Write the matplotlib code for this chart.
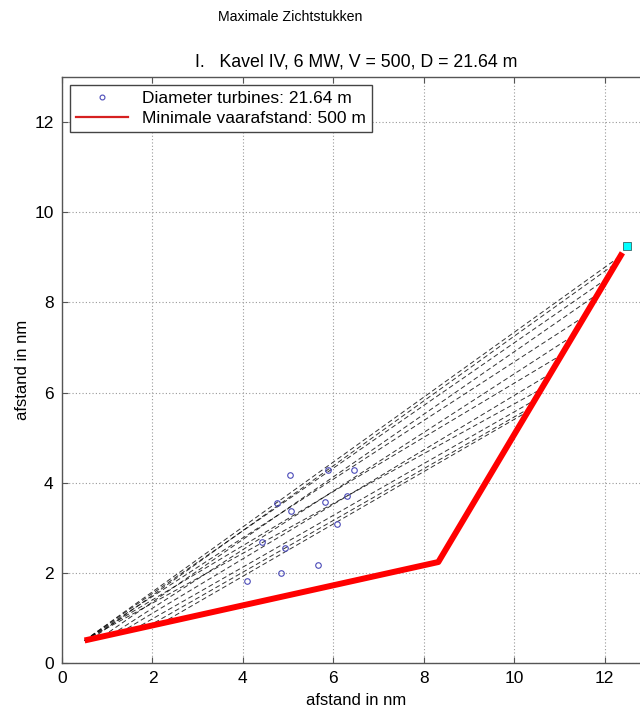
import matplotlib
matplotlib.use("Agg")
import matplotlib.pyplot as plt
from matplotlib.lines import Line2D

plt.rcParams['font.family'] = ['Liberation Sans', 'DejaVu Sans']

# turbine positions (nm)
turbine_x = [5.04, 5.89, 6.46, 4.76, 5.07, 5.82, 6.30, 6.08, 4.42, 4.92, 5.67, 4.85, 4.09]
turbine_y = [4.17, 4.28, 4.28, 3.55, 3.37, 3.57, 3.71, 3.08, 2.68, 2.56, 2.18, 1.99, 1.83]

# minimal sailing distance route
route_x = [0.5, 8.32, 12.39]
route_y = [0.5, 2.24, 9.10]

# sight lines: start and end points along the route
sight_start_x = [0.50, 0.65, 0.50, 0.90, 0.50, 1.10, 0.50, 1.30, 0.50, 1.60, 1.90, 2.20]
sight_start_y = [0.50, 0.53, 0.50, 0.59, 0.50, 0.63, 0.50, 0.68, 0.50, 0.75, 0.81, 0.88]
sight_end_x = [12.35, 12.25, 12.05, 11.85, 11.55, 11.30, 11.05, 10.80, 10.60, 10.45, 10.35, 10.30]
sight_end_y = [9.03, 8.87, 8.53, 8.19, 7.69, 7.26, 6.84, 6.42, 6.08, 5.83, 5.66, 5.58]

# observer marker
obs_x = [12.5]
obs_y = [9.25]

fig = plt.figure(figsize=(6.40, 7.13), dpi=100)
ax = fig.add_axes([62/640, 1-663/713, 588/640, 586/713])

for sx, sy, ex, ey in zip(sight_start_x, sight_start_y, sight_end_x, sight_end_y):
    ax.plot([sx, ex], [sy, ey], color='black',
            lw=0.7, ls=(0, (5, 3)), alpha=0.8, zorder=2)

ax.plot(turbine_x, turbine_y, ls='none', marker='o', ms=4.0, mfc='none',
        mec='#4a4ab8', mew=0.8, zorder=3)
ax.plot(route_x, route_y, color='red', lw=4.3, solid_capstyle='butt', zorder=4)
ax.plot(obs_x, obs_y, ls='none', marker='s', ms=6, mfc='cyan', mec='#336666',
        mew=0.6, zorder=5)

ax.set_xlim(0, 13)
ax.set_ylim(0, 13)
ax.set_xticks(range(0, 13, 2))
ax.set_yticks(range(0, 13, 2))
ax.grid(True, ls=(0, (1, 2)), color='#999999', lw=0.8)
ax.tick_params(direction='in', top=True, right=True, labelsize=12.5, length=4,
               color='#555555', pad=6)
for s in ax.spines.values():
    s.set_color('#555555')
    s.set_linewidth(1.0)

ax.set_xlabel('afstand in nm', fontsize=12, labelpad=5)
ax.set_ylabel('afstand in nm', fontsize=12, labelpad=3)
ax.set_title('I.   Kavel IV, 6 MW, V = 500, D = 21.64 m', fontsize=12.8, pad=7.5)
fig.text(290/640, 1-17/713, 'Maximale Zichtstukken', fontsize=10.2,
         ha='center', va='center')

handles = [Line2D([], [], ls='none', marker='o', ms=3.5, mfc='none',
                  mec='#4a4ab8', mew=0.8),
           Line2D([], [], color='#d62020', lw=1.6)]
labels = ['Diameter turbines: 21.64 m', 'Minimale vaarafstand: 500 m']
leg = ax.legend(handles, labels, loc='upper left', fontsize=12.5, frameon=True,
                fancybox=False, edgecolor='#444444', borderaxespad=0.45,
                handlelength=3.0, borderpad=0.35, labelspacing=0.3,
                handletextpad=0.8, framealpha=1)
leg.get_frame().set_linewidth(1.0)

fig.savefig('out.png', dpi=100)
